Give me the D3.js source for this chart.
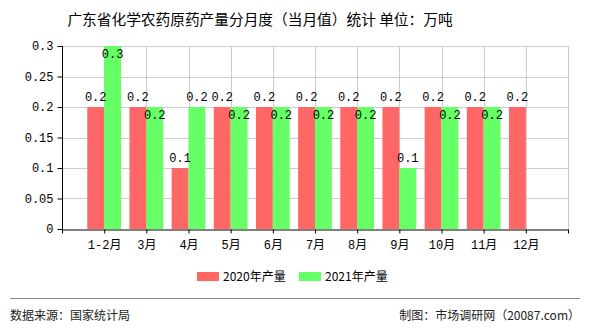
<!DOCTYPE html>
<html>
<head>
<meta charset="utf-8">
<script src="https://cdn.jsdelivr.net/npm/d3@7"></script>
<style>
  body { margin: 0; background: #fff; }
  svg { display: block; }
  .num { font-family: "Liberation Mono", "Noto Sans CJK SC", monospace; font-size: 12px; fill: #000; }
  .cjk { font-family: "Noto Sans CJK SC", sans-serif; fill: #000; }
</style>
</head>
<body>
<div id="chart"></div>
<script>
(function() {
    'use strict';

    var months = ['1-2月', '3月', '4月', '5月', '6月', '7月', '8月', '9月', '10月', '11月', '12月'];
    var values2020 = [0.2, 0.2, 0.1, 0.2, 0.2, 0.2, 0.2, 0.2, 0.2, 0.2, 0.2];
    var values2021 = [0.3, 0.2, 0.2, 0.2, 0.2, 0.2, 0.2, 0.1, 0.2, 0.2, null];
    var yTicks = [0, 0.05, 0.1, 0.15, 0.2, 0.25, 0.3];
    var seriesNames = ['2020年产量', '2021年产量'];
    var colors = ['#ff6666', '#66ff66'];

    var width = 590, height = 330;
    var left = 62, right = 568, top = 46, bottom = 229;

    var svg = d3.select('#chart').append('svg')
        .attr('width', width)
        .attr('height', height);

    // Title
    svg.append('text')
        .attr('class', 'cjk')
        .attr('x', 260)
        .attr('y', 25)
        .attr('text-anchor', 'middle')
        .style('font-size', '14.7px')
        .text('广东省化学农药原药产量分月度（当月值）统计 单位：万吨');

    // Scales: one empty slot before and after the months
    var slots = [''].concat(months, [' ']);
    var x = d3.scalePoint().domain(slots).range([left, right]).padding(0);
    var step = x.step();
    var barW = step * 0.4;
    var y = d3.scaleLinear().domain([0, 0.3]).range([bottom, top]);

    // Grid
    var grid = svg.append('g').attr('stroke', '#cccccc').attr('stroke-width', 1);
    yTicks.forEach(function(t) {
        if (t === 0) return;
        grid.append('line')
            .attr('x1', left).attr('x2', right)
            .attr('y1', Math.round(y(t)) + 0.5).attr('y2', Math.round(y(t)) + 0.5);
    });
    slots.forEach(function(s, i) {
        if (i === 0) return;
        var xx = Math.round(x(s)) + 0.5;
        grid.append('line')
            .attr('x1', xx).attr('x2', xx)
            .attr('y1', top).attr('y2', bottom);
    });

    // Bars
    var g = svg.append('g');
    months.forEach(function(m, i) {
        var cx = x(m);
        [values2020[i], values2021[i]].forEach(function(v, k) {
            if (v == null) return;
            g.append('rect')
                .attr('x', k === 0 ? cx - barW : cx)
                .attr('y', y(v))
                .attr('width', barW)
                .attr('height', bottom - y(v))
                .attr('fill', colors[k]);
        });
    });

    // Value labels
    months.forEach(function(m, i) {
        var cx = x(m);
        var a = values2020[i], b = values2021[i];
        if (a != null) {
            svg.append('text').attr('class', 'num')
                .attr('x', cx - barW / 2).attr('y', y(a) - 6)
                .attr('text-anchor', 'middle').text(a);
        }
        if (b != null) {
            // goes inside the bar when it would clash with the neighbour label or the top
            var inside = b === a || y(b) - 16 < top;
            svg.append('text').attr('class', 'num')
                .attr('x', cx + barW / 2).attr('y', inside ? y(b) + 12 : y(b) - 6)
                .attr('text-anchor', 'middle').text(b);
        }
    });

    // Axes
    var yAxis = d3.axisLeft(y).tickValues(yTicks).tickSize(5).tickFormat(d3.format('~g'));
    var ya = svg.append('g').attr('transform', 'translate(' + (left + 0.5) + ',0)').call(yAxis);
    ya.select('.domain').attr('d', 'M0,' + top + 'V' + (bottom + 0.5));
    ya.selectAll('text').attr('class', 'num').attr('dx', '-1');

    var xAxis = d3.axisBottom(x).tickSize(4).tickSizeOuter(0);
    var xa = svg.append('g').attr('transform', 'translate(0,' + (bottom + 0.5) + ')').call(xAxis);
    xa.selectAll('text').attr('class', 'num').attr('dy', '1.05em');
    svg.selectAll('.domain').attr('stroke', '#000');
    svg.selectAll('.tick line').attr('stroke', '#000');

    // Legend
    var legend = svg.append('g');
    var lx = [197, 299];
    seriesNames.forEach(function(name, k) {
        legend.append('rect')
            .attr('x', lx[k]).attr('y', 272)
            .attr('width', 22).attr('height', 9)
            .attr('fill', colors[k]);
        legend.append('text')
            .attr('class', 'cjk')
            .attr('x', lx[k] + 26).attr('y', 281)
            .style('font-size', '12px')
            .text(name);
    });

    // Footer
    svg.append('line')
        .attr('x1', 10).attr('x2', 580)
        .attr('y1', 298.5).attr('y2', 298.5)
        .attr('stroke', '#888');
    svg.append('text').attr('class', 'cjk')
        .attr('x', 10).attr('y', 320)
        .style('font-size', '12px').style('fill', '#222')
        .text('数据来源：国家统计局');
    svg.append('text').attr('class', 'cjk')
        .attr('x', 580).attr('y', 320)
        .attr('text-anchor', 'end')
        .style('font-size', '12px').style('fill', '#222')
        .text('制图：市场调研网（20087.com）');
})();
</script>
</body>
</html>
